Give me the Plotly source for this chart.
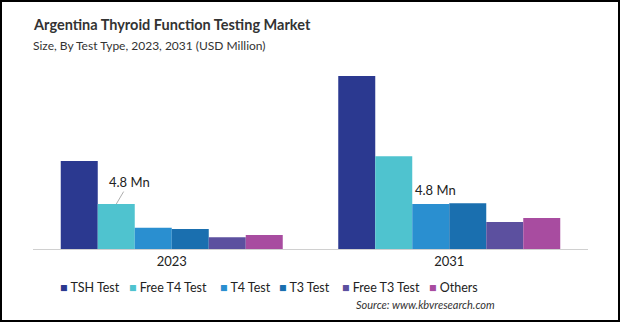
import plotly.graph_objects as go

years = ["2023", "2031"]
series = ["TSH Test", "Free T4 Test", "T4 Test", "T3 Test", "Free T3 Test", "Others"]
tsh = [9.4, 18.5]
free_t4 = [4.8, 9.9]
t4 = [2.27, 4.8]
t3 = [2.13, 4.9]
free_t3 = [1.25, 2.88]
others = [1.49, 3.3]
values = [tsh, free_t4, t4, t3, free_t3, others]
colors = ["#2b3990", "#4fc3cf", "#2a8fd0", "#1a6faf", "#5c509f", "#a84ca0"]

FONT = "Lato"
W, H = 620, 322
ML, MR, MT, MB = 33, 32, 60, 73

fig = go.Figure()
for name, vals, col in zip(series, values, colors):
    fig.add_trace(go.Bar(x=years, y=vals, name=name, marker=dict(color=col, line=dict(width=0)),
                         showlegend=False))

fig.update_layout(
    width=W, height=H,
    margin=dict(l=ML, r=MR, t=MT, b=MB),
    barmode="group", bargap=0.2, bargroupgap=0,
    plot_bgcolor="white", paper_bgcolor="white",
    font=dict(family=FONT, color="#222"),
    xaxis=dict(type="category", showline=True, linecolor="#d0d0d0", linewidth=1,
               ticks="", tickfont=dict(size=13, color="#222"), showgrid=False),
    yaxis=dict(range=[0, 20.2], visible=False, showgrid=False),
)

pw = W - ML - MR
ph = H - MT - MB

def px(x):
    return (x - ML) / pw

def py(y):
    return (H - MB - y) / ph

ann = []
ann.append(dict(xref="paper", yref="paper", x=px(31), y=py(24), xanchor="left", yanchor="middle",
                text="<b>Argentina Thyroid Function Testing Market</b>", showarrow=False,
                font=dict(size=14.5, color="#333", family=FONT)))
ann.append(dict(xref="paper", yref="paper", x=px(31), y=py(45), xanchor="left", yanchor="middle",
                text="Size, By Test Type, 2023, 2031 (USD Million)", showarrow=False,
                font=dict(size=12, color="#333", family=FONT)))
ann.append(dict(xref="paper", yref="paper", x=px(497), y=py(304), xanchor="right", yanchor="middle",
                text="<i>Source: www.kbvresearch.com</i>", showarrow=False,
                font=dict(size=11, color="#333", family=FONT)))

# value labels
n = len(series)
bw = 0.8 / n
off_ft4 = -0.4 + 1.5 * bw
off_t4 = -0.4 + 2.5 * bw
ann.append(dict(xref="x", yref="y", x=0 + off_ft4, y=free_t4[0], text=f"{free_t4[0]} Mn",
                showarrow=True, arrowhead=0, arrowwidth=0.8, arrowcolor="#999", ax=13, ay=-22,
                font=dict(size=13, color="#222"), standoff=0))
ann.append(dict(xref="x", yref="y", x=1 + off_t4, y=t4[1], text=f"{t4[1]} Mn",
                showarrow=False, yanchor="bottom", xanchor="center", xshift=5, yshift=4,
                font=dict(size=13, color="#222")))

# legend as text items
leg_x = [58, 127, 218, 277, 340, 427]
for name, col, lx in zip(series, colors, leg_x):
    ann.append(dict(xref="paper", yref="paper", x=px(lx), y=py(287), xanchor="left", yanchor="middle",
                    text=f"<span style='color:{col}'>■</span> {name}", showarrow=False,
                    font=dict(size=12.5, color="#222", family=FONT)))

fig.update_layout(annotations=ann)

# frame border
fig.add_shape(type="rect", xref="paper", yref="paper",
              x0=px(1), x1=px(W - 1), y0=py(H - 1), y1=py(1),
              line=dict(color="black", width=2), fillcolor="rgba(0,0,0,0)")

fig.write_html("out.html")
